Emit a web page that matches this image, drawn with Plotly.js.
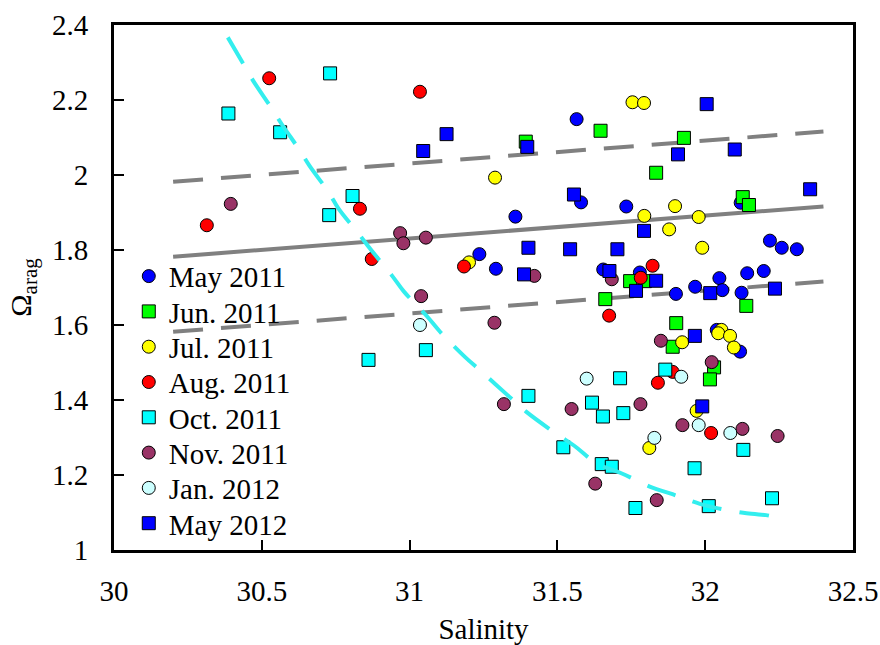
<!DOCTYPE html>
<html>
<head>
<meta charset="utf-8">
<script src="https://cdn.plot.ly/plotly-3.0.1.min.js"></script>
<style>html,body{margin:0;padding:0;background:#fff;}#chart{width:880px;height:645px;}</style>
</head>
<body>
<div id="chart"></div>
<script>
// ---- Data (salinity, Omega_arag) ----
const seriesNames = ["May 2011","Jun. 2011","Jul. 2011","Aug. 2011","Oct. 2011","Nov. 2011","Jan. 2012","May 2012"];

const may2011X = [31.565,31.580,31.733,32.120,31.358,32.219,32.259,32.310,31.236,31.292,31.655,31.779,31.901,31.966,32.048,32.058,32.123,32.142,32.198,32.039,32.118];
const may2011Y = [2.149,1.927,1.916,1.926,1.889,1.825,1.806,1.802,1.789,1.750,1.748,1.740,1.683,1.702,1.725,1.693,1.686,1.738,1.744,1.587,1.529];

const jun2011X = [31.646,31.393,31.928,31.834,32.127,32.148,31.746,31.796,31.662,32.139,31.902,31.890,32.030,32.016];
const jun2011Y = [2.118,2.089,2.099,2.006,1.941,1.920,1.717,1.717,1.669,1.651,1.605,1.542,1.487,1.455];

const jul2011X = [31.754,31.793,31.289,31.898,31.794,31.978,31.878,31.990,31.201,32.055,32.044,32.084,32.097,31.922,31.971,31.811];
const jul2011Y = [2.194,2.192,1.993,1.917,1.891,1.888,1.855,1.806,1.767,1.587,1.578,1.571,1.540,1.554,1.371,1.272];

const aug2011X = [30.525,31.035,30.832,30.314,30.872,31.184,31.822,31.782,31.675,31.890,31.840,32.020];
const aug2011Y = [2.258,2.222,1.910,1.866,1.776,1.756,1.758,1.726,1.625,1.475,1.446,1.312];

const oct2011X = [30.731,30.387,30.562,30.807,30.728,31.055,30.861,31.865,31.712,31.402,31.617,31.654,31.723,32.129,31.520,31.650,31.684,31.964,31.764,32.012,32.226];
const oct2011Y = [2.271,2.164,2.114,1.944,1.893,1.533,1.507,1.481,1.458,1.411,1.393,1.356,1.365,1.267,1.274,1.229,1.222,1.218,1.112,1.117,1.138];

const nov2011X = [30.395,30.968,30.979,31.055,31.039,31.287,31.422,31.684,31.850,32.022,31.319,31.548,31.781,31.923,32.126,32.245,31.628,31.836];
const nov2011Y = [1.923,1.845,1.818,1.833,1.677,1.606,1.731,1.722,1.558,1.501,1.389,1.376,1.389,1.333,1.323,1.304,1.177,1.133];

const jan2012X = [31.035,31.919,31.599,31.978,32.085,31.828];
const jan2012Y = [1.600,1.462,1.457,1.333,1.312,1.299];

const may2012X = [32.005,31.125,31.046,31.398,31.908,32.100,31.556,32.355,31.793,31.402,31.543,31.703,31.387,31.676,31.834,31.766,32.017,32.236,31.965,31.990];
const may2012Y = [2.189,2.109,2.064,2.075,2.055,2.068,1.948,1.962,1.851,1.806,1.802,1.802,1.735,1.744,1.718,1.691,1.685,1.697,1.571,1.383];

// regression line and +/- bounds
const fitX = [30.2, 32.4];
const fitY = [1.782, 1.916];
const upperY = [1.982, 2.116];
const lowerY = [1.582, 1.716];

// cyan dashed curve
const curveX = [30.385,30.440,30.471,30.533,30.567,30.629,30.661,30.727,30.759,30.829,30.868,30.941,30.981,31.058,31.103,31.187,31.240,31.337,31.394,31.498,31.557,31.633,31.718,31.819,31.881,31.982,32.044,32.140,32.206,32.220];
const curveY = [2.367,2.293,2.251,2.178,2.136,2.065,2.025,1.953,1.911,1.842,1.802,1.731,1.689,1.624,1.582,1.515,1.478,1.409,1.369,1.309,1.278,1.231,1.204,1.167,1.151,1.123,1.111,1.098,1.093,1.091];

// ---- Styles ----
const fills = ["#0000FF","#00FF00","#FFFF00","#FF0000","#00FFFF","#993366","#CCFFFF","#0000FF"];
const symbols = ["circle","square","circle","circle","square","circle","circle","square"];
const xs = [may2011X,jun2011X,jul2011X,aug2011X,oct2011X,nov2011X,jan2012X,may2012X];
const ys = [may2011Y,jun2011Y,jul2011Y,aug2011Y,oct2011Y,nov2011Y,jan2012Y,may2012Y];

const gray = "#808080";
const traces = [
  {x: fitX, y: upperY, mode: "lines", line: {color: gray, width: 4, dash: "30px,18px"}, showlegend: false, hoverinfo: "skip"},
  {x: fitX, y: fitY, mode: "lines", line: {color: gray, width: 4}, showlegend: false, hoverinfo: "skip"},
  {x: fitX, y: lowerY, mode: "lines", line: {color: gray, width: 4, dash: "30px,18px"}, showlegend: false, hoverinfo: "skip"}
];
seriesNames.forEach((n, i) => {
  traces.push({
    x: xs[i], y: ys[i], name: n, type: "scatter", mode: "markers",
    marker: {symbol: symbols[i], color: fills[i], size: 13, line: {color: "#000", width: 1}}
  });
});
traces.push({x: curveX, y: curveY, mode: "lines", line: {color: "#33EEEE", width: 4, dash: "30px,18px", shape: "spline"}, showlegend: false, hoverinfo: "skip"});

const font = {family: "'Liberation Serif', 'Times New Roman', serif", size: 29, color: "#000"};
const layout = {
  width: 880, height: 645,
  margin: {l: 114, r: 27, t: 25, b: 95},
  paper_bgcolor: "#fff", plot_bgcolor: "#fff",
  font: font,
  showlegend: true,
  legend: {x: 0.02, y: 0.57, xanchor: "left", yanchor: "top", bgcolor: "rgba(0,0,0,0)", borderwidth: 0, font: font},
  xaxis: {
    range: [30, 32.5], tick0: 30, dtick: 0.5, showgrid: false, zeroline: false,
    showline: true, linecolor: "#000", linewidth: 3, mirror: true,
    ticks: "inside", ticklen: 10, tickwidth: 2, tickcolor: "#000",
    ticklabelstandoff: 13,
    title: {text: "Salinity", font: font, standoff: 17}
  },
  yaxis: {
    range: [1, 2.4], tick0: 1, dtick: 0.2, showgrid: false, zeroline: false,
    showline: true, linecolor: "#000", linewidth: 3, mirror: true,
    ticks: "inside", ticklen: 10, tickwidth: 2, tickcolor: "#000",
    ticklabelstandoff: 17,
    title: {text: "Ω<sub>arag</sub>", font: {family: font.family, size: 30, color: "#000"}, standoff: 12}
  }
};

Plotly.newPlot("chart", traces, layout, {staticPlot: true}).then(gd => {
  // tighten legend row spacing to match the reference
  const items = gd.querySelectorAll(".legend .traces");
  let y0 = null;
  items.forEach((el, i) => {
    const m = /translate\(([-\d.]+)[ ,]+([-\d.]+)\)/.exec(el.getAttribute("transform") || "");
    if (!m) return;
    if (y0 === null) y0 = parseFloat(m[2]);
    el.setAttribute("transform", "translate(" + m[1] + "," + (y0 + i * 35.3) + ")");
  });
});
</script>
</body>
</html>
